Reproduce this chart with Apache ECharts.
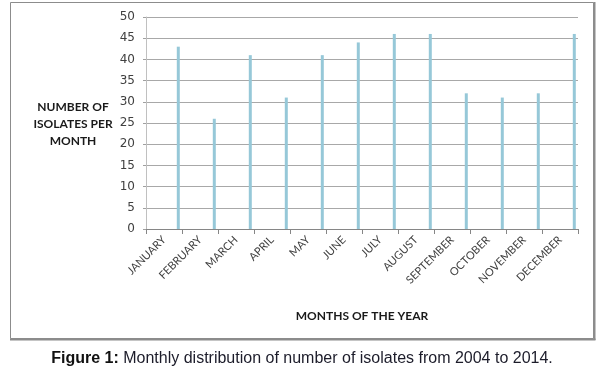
<!DOCTYPE html>
<html>
<head>
<meta charset="utf-8">
<script src="https://cdn.jsdelivr.net/npm/echarts@6/dist/echarts.min.js"></script>
<style>
  html, body { margin: 0; padding: 0; background: #fff; }
  #chart { width: 606px; height: 368px; }
</style>
</head>
<body>
<div id="chart"></div>
<script>
// months on the x axis
var months = ['JANUARY', 'FEBRUARY', 'MARCH', 'APRIL', 'MAY', 'JUNE', 'JULY',
  'AUGUST', 'SEPTEMBER', 'OCTOBER', 'NOVEMBER', 'DECEMBER'];
// isolates per month
var isolates = [43, 26, 41, 31, 41, 44, 46, 46, 32, 31, 32, 46];
// y ticks
var yMin = 0, yMax = 50, yStep = 5;

var chart = echarts.init(document.getElementById('chart'), null, { renderer: 'canvas' });

chart.setOption({
  animation: false,
  backgroundColor: '#fff',
  grid: { left: 146, right: 28, top: 17, bottom: 139, containLabel: false },
  xAxis: {
    type: 'category',
    data: months,
    name: 'MONTHS OF THE YEAR',
    nameLocation: 'middle',
    nameGap: 81,
    nameTextStyle: { fontFamily: 'Lato', fontWeight: 'bold', fontSize: 12, color: '#1a1a1a' },
    axisLine: { lineStyle: { color: '#868686', width: 1 } },
    axisTick: { show: true, length: 5, lineStyle: { color: '#868686' } },
    axisLabel: { rotate: 45, fontFamily: 'Lato', fontSize: 11, color: '#404040', margin: 9, interval: 0 }
  },
  yAxis: {
    type: 'value',
    min: yMin,
    max: yMax,
    interval: yStep,
    axisLine: { show: true, lineStyle: { color: '#c0c0c0' } },
    axisTick: { show: true, length: 3, lineStyle: { color: '#a0a0a0' } },
    axisLabel: { fontFamily: 'DejaVu Sans', fontSize: 12, color: '#404040', margin: 11 },
    splitLine: { lineStyle: { color: '#a8a8a8', width: 1 } }
  },
  series: [
    // empty slot so the real bar sits at the right of each month, as in the original
    { type: 'bar', data: [], barWidth: 3 },
    {
      type: 'bar',
      data: isolates,
      barWidth: 3,
      barGap: '853%',
      itemStyle: { color: '#96c8d8' }
    }
  ],
  graphic: [
    {
      type: 'rect',
      shape: { x: 10.5, y: 2.5, width: 583, height: 336 },
      style: { fill: 'none', stroke: '#8c8c8c', lineWidth: 1 },
      silent: true
    },
    {
      type: 'line',
      shape: { x1: 594.5, y1: 2, x2: 594.5, y2: 340 },
      style: { stroke: '#8c8c8c', lineWidth: 2 },
      silent: true
    },
    {
      type: 'line',
      shape: { x1: 10, y1: 339.5, x2: 595.5, y2: 339.5 },
      style: { stroke: '#8c8c8c', lineWidth: 2 },
      silent: true
    },
    {
      type: 'text',
      x: 73,
      y: 124,
      style: {
        text: 'NUMBER OF\nISOLATES PER\nMONTH',
        fontFamily: 'Lato',
        fontWeight: 'bold',
        fontSize: 12,
        lineHeight: 17,
        fill: '#1a1a1a',
        align: 'center',
        verticalAlign: 'middle'
      }
    },
    {
      type: 'text',
      x: 302,
      y: 359,
      style: {
        text: '{b|Figure 1:} Monthly distribution of number of isolates from 2004 to 2014.',
        fontFamily: 'Liberation Sans',
        fontSize: 16,
        fill: '#1c1c2a',
        align: 'center',
        verticalAlign: 'middle',
        rich: {
          b: { fontFamily: 'Liberation Sans', fontWeight: 'bold', fontSize: 16, fill: '#111' }
        }
      }
    }
  ]
});
</script>
</body>
</html>
